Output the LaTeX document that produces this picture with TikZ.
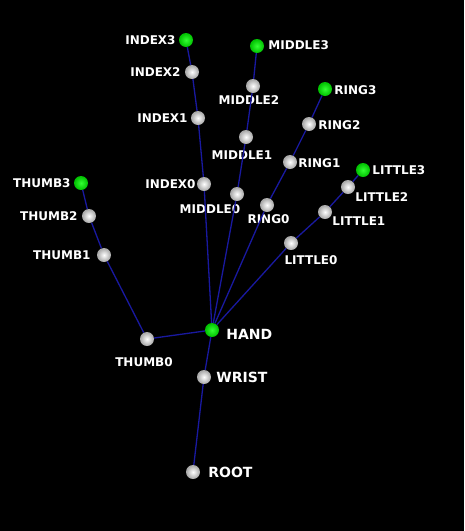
\documentclass[tikz,border=0pt]{standalone}
\usepackage{fontspec}
\setmainfont{DejaVu Sans}
\usepackage{tikz}
\usetikzlibrary{positioning}

\tikzset{
  joint/.style={circle, inner sep=0pt, minimum size=14pt, shading=radial, inner color=white, outer color=gray!70},
  tip/.style={circle, inner sep=0pt, minimum size=14pt, shading=radial, inner color=green!80!white, outer color=green!75!black},
  lbl/.style={text=white, font=\bfseries\fontsize{12}{12}\selectfont, inner sep=0pt},
  biglbl/.style={text=white, font=\bfseries\fontsize{14}{14}\selectfont, inner sep=0pt},
  bone/.style={draw={rgb,255:red,25;green,25;blue,160}, line width=1.3pt}
}

\begin{document}
\begin{tikzpicture}[x=1pt, y=-1pt, label distance=3pt]
        % background
        \fill[black] (0,0) rectangle (464,531);
        \useasboundingbox (0,0) rectangle (464,531);
        % nodes
        \node[joint, label={[biglbl, label distance=8pt]right:ROOT}] (root) at (193,472) {};
        \node[joint, label={[biglbl, label distance=5pt]right:WRIST}] (wrist) at (204,377) {};
        \node[tip, label={[biglbl, label distance=7pt, yshift=-4pt]right:HAND}] (hand) at (212,330) {};
        % thumb
        \node[joint, label={[lbl, label distance=11pt, xshift=-3pt]below:THUMB0}] (thumb0) at (147,339) {};
        \node[joint, label={[lbl, label distance=6pt]left:THUMB1}] (thumb1) at (104,255) {};
        \node[joint, label={[lbl, label distance=4pt]left:THUMB2}] (thumb2) at (89,216) {};
        \node[tip, label={[lbl]left:THUMB3}] (thumb3) at (81,183) {};
        % index
        \node[joint, label={[lbl, label distance=1pt]left:INDEX0}] (index0) at (204,184) {};
        \node[joint, label={[lbl]left:INDEX1}] (index1) at (198,118) {};
        \node[joint, label={[lbl, label distance=4pt]left:INDEX2}] (index2) at (192,72) {};
        \node[tip, label={[lbl]left:INDEX3}] (index3) at (186,40) {};
        % middle
        \node[joint, label={[lbl, label distance=3.5pt, xshift=-27pt]below:MIDDLE0}] (middle0) at (237,194) {};
        \node[joint, label={[lbl, label distance=6.5pt, xshift=-4pt]below:MIDDLE1}] (middle1) at (246,137) {};
        \node[joint, label={[lbl, label distance=2.5pt, xshift=-4pt]below:MIDDLE2}] (middle2) at (253,86) {};
        \node[tip, label={[lbl, label distance=4pt, yshift=1pt]right:MIDDLE3}] (middle3) at (257,46) {};
        % ring
        \node[joint, label={[lbl, label distance=2.5pt, xshift=1.5pt]below:RING0}] (ring0) at (267,205) {};
        \node[joint, label={[lbl, label distance=1pt, yshift=-1pt]right:RING1}] (ring1) at (290,162) {};
        \node[joint, label={[lbl, label distance=2pt, yshift=-1pt]right:RING2}] (ring2) at (309,124) {};
        \node[tip, label={[lbl, label distance=2pt, yshift=-1pt]right:RING3}] (ring3) at (325,89) {};
        % little
        \node[joint, label={[lbl, label distance=5.5pt, xshift=20pt]below:LITTLE0}] (little0) at (291,243) {};
        \node[joint, label={[lbl, label distance=0pt, yshift=-9pt]right:LITTLE1}] (little1) at (325,212) {};
        \node[joint, label={[lbl, label distance=0pt, yshift=-10pt]right:LITTLE2}] (little2) at (348,187) {};
        \node[tip, label={[lbl, label distance=2pt]right:LITTLE3}] (little3) at (363,170) {};
        % bones
        \draw[bone] (root) -- (wrist) -- (hand);
        \draw[bone] (hand) -- (thumb0) -- (thumb1) -- (thumb2) -- (thumb3);
        \draw[bone] (hand) -- (index0) -- (index1) -- (index2) -- (index3);
        \draw[bone] (hand) -- (middle0) -- (middle1) -- (middle2) -- (middle3);
        \draw[bone] (hand) -- (ring0) -- (ring1) -- (ring2) -- (ring3);
        \draw[bone] (hand) -- (little0) -- (little1) -- (little2) -- (little3);
    \end{tikzpicture}
\end{document}
